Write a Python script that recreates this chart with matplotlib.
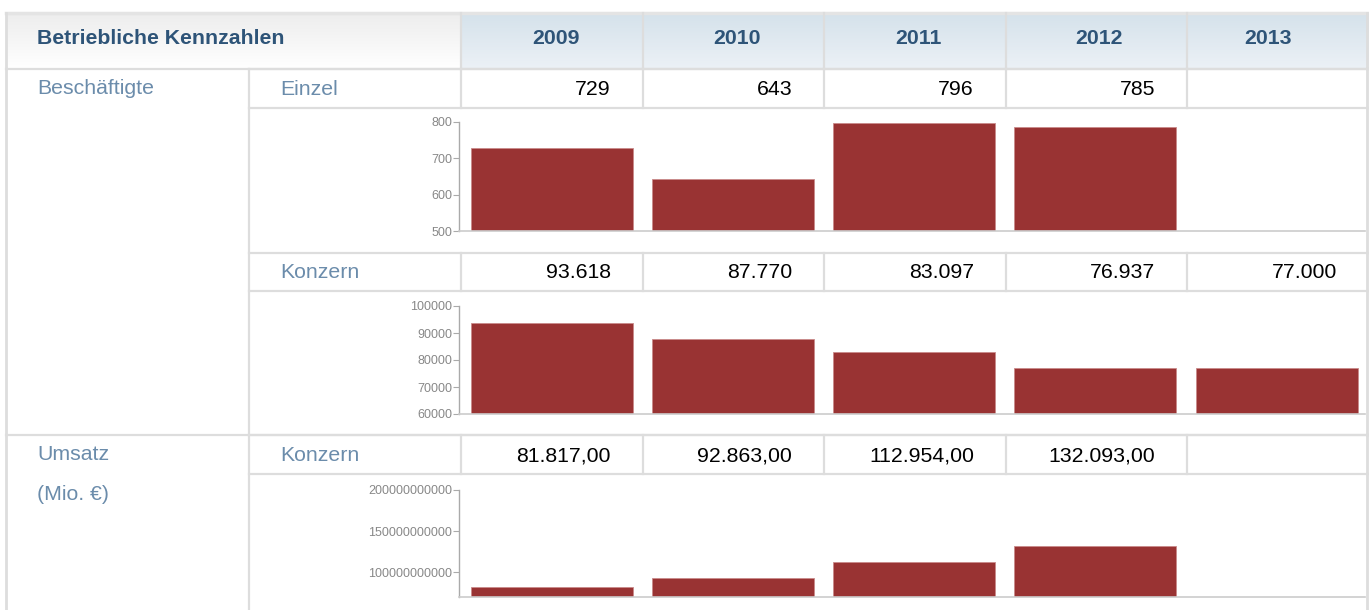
import numpy as np
import matplotlib
matplotlib.use('Agg')
import matplotlib.pyplot as plt
from matplotlib.ticker import FuncFormatter

plt.rcParams['font.family'] = ['Liberation Sans', 'DejaVu Sans']

# data
years = ['2009', '2010', '2011', '2012', '2013']
einzel = [729, 643, 796, 785, None]
konzern = [93618, 87770, 83097, 76937, 77000]
umsatz = [81817.00, 92863.00, 112954.00, 132093.00, None]   # Mio. EUR
title = 'Betriebliche Kennzahlen'
group_labels = ['Beschäftigte', 'Umsatz\n\n(Mio. €)']
sub_labels = ['Einzel', 'Konzern', 'Konzern']

W, H = 1369, 610
bar_col = '#993333'
border = '#dddddd'
head_blue = '#2e5478'
label_blue = '#6b8cab'
tick_grey = '#888888'

fig = plt.figure(figsize=(W / 100, H / 100), dpi=100)
bg = fig.add_axes([0, 0, 1, 1])
bg.set_xlim(0, W)
bg.set_ylim(H, 0)
bg.axis('off')

def fmt_int(v):
    return '{:,}'.format(v).replace(',', '.')

def fmt_dec(v):
    s = '{:,.2f}'.format(v)
    return s.replace(',', 'X').replace('.', ',').replace('X', '.')

# geometry (pixels)
x_left, x_lab, x_first, x_right = 6, 249, 461, 1369
col_w = (x_right - x_first) / 5.0
col_edges = [x_first + i * col_w for i in range(6)]
y_top, y_head = 13, 69
rows = [(69, 108), (253, 291), (435, 474)]
charts = [(108, 253), (291, 435), (474, 610)]

# header gradients
grad = np.linspace(0, 1, 50).reshape(-1, 1)
grey = np.dstack([0.93 + 0.07 * grad] * 3)
bg.imshow(grey, extent=(x_left, x_first, y_head, y_top), aspect='auto', zorder=0)
top_c = np.array([0.835, 0.886, 0.922])
bot_c = np.array([0.925, 0.945, 0.965])
blue = top_c + (bot_c - top_c) * grad[:, :, None]
bg.imshow(blue, extent=(x_first, x_right, y_head, y_top), aspect='auto', zorder=0)
bg.set_xlim(0, W)
bg.set_ylim(H, 0)

# table border lines
lw = 1.6
bg.plot([x_left, x_right], [y_top, y_top], color='#e4e4e4', lw=2.5, zorder=2)
bg.plot([x_left, x_left], [y_top, H], color=border, lw=2, zorder=2)
bg.plot([x_right - 2, x_right - 2], [y_top, H], color=border, lw=2, zorder=2)
bg.plot([x_left, x_right], [y_head, y_head], color=border, lw=lw, zorder=2)
bg.plot([x_left, x_right], [435, 435], color=border, lw=lw, zorder=2)
bg.plot([x_lab, x_lab], [y_head, H], color=border, lw=lw, zorder=2)
for x in col_edges[:-1]:
    bg.plot([x, x], [y_top, y_head], color=border, lw=lw, zorder=2)
for (r0, r1) in rows:
    bg.plot([x_lab, x_right], [r0, r0], color=border, lw=lw, zorder=2)
    bg.plot([x_lab, x_right], [r1, r1], color=border, lw=lw, zorder=2)
    for x in col_edges[:-1]:
        bg.plot([x, x], [r0, r1], color=border, lw=lw, zorder=2)

# header texts
bg.text(37, 39, title, color=head_blue, fontsize=15.3, fontweight='bold', va='center', ha='left')
head_x = [556, 737, 918, 1099, 1268]
for hx, yr in zip(head_x, years):
    bg.text(hx, 39, yr, color=head_blue, fontsize=15.3, fontweight='bold', va='center', ha='center')

# row labels
bg.text(37, 89, group_labels[0], color=label_blue, fontsize=15.3, va='center', ha='left')
bg.text(37, 455, 'Umsatz', color=label_blue, fontsize=15.3, va='center', ha='left')
bg.text(37, 494, '(Mio. €)', color=label_blue, fontsize=15.3, va='center', ha='left')
for (r0, r1), lab in zip(rows, sub_labels):
    bg.text(280, (r0 + r1) / 2 + 1, lab, color=label_blue, fontsize=15.3, va='center', ha='left')

# values
table_vals = [[fmt_int(v) if v is not None else '' for v in einzel],
              [fmt_int(v) for v in konzern],
              [fmt_dec(v) if v is not None else '' for v in umsatz]]
for (r0, r1), vals in zip(rows, table_vals):
    for i, s in enumerate(vals):
        bg.text(col_edges[i + 1] - 32, (r0 + r1) / 2 + 1, s, color='black',
                fontsize=15.3, va='center', ha='right')

# embedded bar charts
def add_chart(top_px, bot_px, vals, lo, hi, ticks):
    ax = fig.add_axes([459 / W, 1 - bot_px / H, (1365 - 459) / W, (bot_px - top_px) / H])
    x = np.arange(len(vals))
    v = [np.nan if a is None else a for a in vals]
    ax.bar(x, v, width=0.894, color=bar_col, edgecolor='#c98a8a', linewidth=0.6, bottom=0)
    ax.set_xlim(-0.512, 4.488)
    ax.set_ylim(lo, hi)
    ax.set_yticks(ticks)
    ax.yaxis.set_major_formatter(FuncFormatter(lambda t, p: '%d' % t))
    ax.set_xticks([])
    ax.patch.set_alpha(0)
    for s in ['top', 'right']:
        ax.spines[s].set_visible(False)
    ax.spines['left'].set_color('#aaaaaa')
    ax.spines['bottom'].set_color('#cccccc')
    ax.spines['left'].set_linewidth(1.0)
    ax.spines['bottom'].set_linewidth(1.2)
    ax.tick_params(axis='y', length=4, width=0.8, color='#aaaaaa', labelcolor=tick_grey,
                   labelsize=9, pad=1)
    return ax

add_chart(122, 231, einzel, 500, 800, [500, 600, 700, 800])
add_chart(306, 414, konzern, 60000, 100000, [60000, 70000, 80000, 90000, 100000])
add_chart(490, 597, [None if v is None else v * 1e6 for v in umsatz], 70e9, 200e9,
          [100e9, 150e9, 200e9])

fig.savefig('out.png', dpi=100)
